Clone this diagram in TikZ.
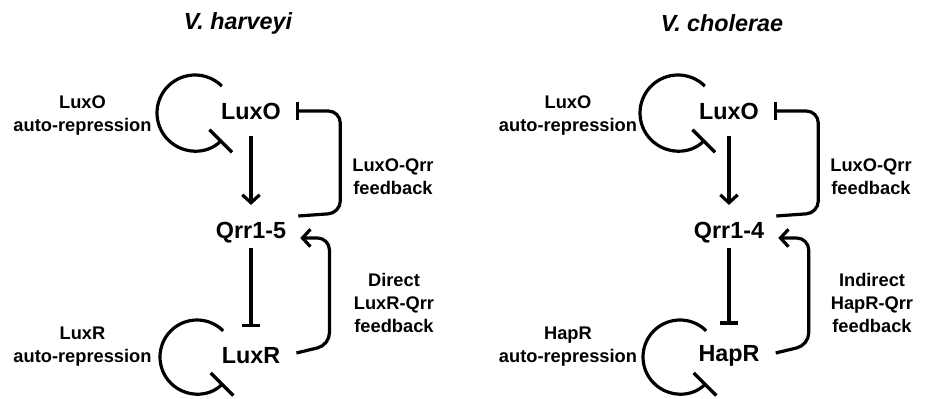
\documentclass[tikz,border=0pt]{standalone}
\usepackage{fontspec}
\setmainfont{Liberation Sans}
\usetikzlibrary{arrows.meta}
\tikzset{
  gene/.style={inner sep=0pt, font=\fontsize{17.5}{21}\selectfont\bfseries},
  species/.style={inner sep=0pt, font=\fontsize{17.5}{21}\selectfont\bfseries\itshape},
  note/.style={inner sep=0pt, align=center, font=\fontsize{13.7}{17.25}\selectfont\bfseries},
  act/.style={line width=2.4pt, -{Straight Barb[length=6pt,width=13pt]}},
  rep/.style={line width=2.4pt, -{Bar[width=13pt]}},
  selfrep/.style={line width=2.4pt, -{Bar[width=24pt]}}
}

\begin{document}
\begin{tikzpicture}[x=7.5pt,y=7.5pt]
\useasboundingbox (0,0) rectangle (94.6,39.9);

% Vibrio harveyi
\node[species] (vh) at (23.8,37.6) {V. harveyi};

\node[gene] (luxo) at (25.1,28.8) {LuxO};
\node[gene] (qrr) at (25.1,16.6) {Qrr1-5};
\node[gene] (luxr) at (25.1,4.3) {LuxR};

\draw[act] ([yshift=-12pt]luxo.south) -- ([yshift=13pt]qrr.north);
\draw[rep] ([yshift=-3pt]qrr.south) -- ([yshift=15.5pt]luxr.north);

\draw[selfrep] ([shift={(-5.6,-0.2)}]luxo) ++(45:3.8) arc[start angle=45, end angle=315, radius=3.8];
\draw[selfrep] ([shift={(-5.4,-0.1)}]luxr) ++(45:3.7) arc[start angle=45, end angle=315, radius=3.7];

\draw[rep, rounded corners=9pt] ([shift={(1.2,1.7)}]qrr.east) -- ++(4.2,0.3) |- ([xshift=11pt]luxo.east);
\draw[act, rounded corners=9pt] ([shift={(1.6,0.3)}]luxr.east) -- ++(3.3,0.8) |- ([shift={(1.4,-0.5)}]qrr.east);

\node[note] (luxoauto) at (8.25,28.35) {LuxO\\auto-repression};
\node[note] (luxrauto) at (8.25,5.25) {LuxR\\auto-repression};
\node[note] (luxofb) at (39.3,22.25) {LuxO-Qrr\\feedback};
\node[note] (luxrfb) at (39.4,9.6) {Direct\\LuxR-Qrr\\feedback};

% Vibrio cholerae
\begin{scope}[shift={(47.8,0)}]
\node[species] (vc) at (24.4,37.6) {V. cholerae};

\node[gene] (luxo2) at (25.1,28.8) {LuxO};
\node[gene] (qrr2) at (25.1,16.6) {Qrr1-4};
\node[gene] (hapr) at (25.1,4.3) {HapR};

\draw[act] ([yshift=-12pt]luxo2.south) -- ([yshift=13pt]qrr2.north);
\draw[rep] ([yshift=-3pt]qrr2.south) -- ([yshift=15.5pt]hapr.north);

\draw[selfrep] ([shift={(-5.1,-0.2)}]luxo2) ++(45:3.8) arc[start angle=45, end angle=315, radius=3.8];
\draw[selfrep] ([shift={(-4.9,-0.1)}]hapr) ++(45:3.7) arc[start angle=45, end angle=315, radius=3.7];

\draw[rep, rounded corners=9pt] ([shift={(1.2,1.7)}]qrr2.east) -- ++(4.2,0.3) |- ([xshift=11pt]luxo2.east);
\draw[act, rounded corners=9pt] ([shift={(1.6,0.3)}]hapr.east) -- ++(3.3,0.8) |- ([shift={(1.4,-0.5)}]qrr2.east);

\node[note] (luxoauto2) at (9.0,28.35) {LuxO\\auto-repression};
\node[note] (hapauto) at (9.0,5.25) {HapR\\auto-repression};
\node[note] (luxofb2) at (39.3,22.25) {LuxO-Qrr\\feedback};
\node[note] (haprfb) at (39.4,9.6) {Indirect\\HapR-Qrr\\feedback};
\end{scope}
\end{tikzpicture}
\end{document}
